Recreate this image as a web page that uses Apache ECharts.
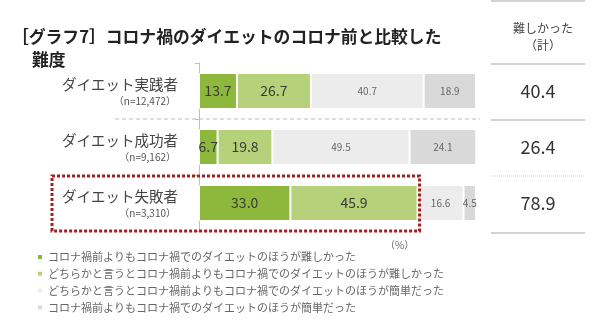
<!DOCTYPE html>
<html>
<head>
<meta charset="utf-8">
<script src="https://cdn.jsdelivr.net/npm/echarts@6/dist/echarts.min.js"></script>
<style>
html,body{margin:0;padding:0;background:#fff;}
#c{width:600px;height:328px;}
</style>
</head>
<body>
<div id="c"></div>
<script>
const categories = ['ダイエット実践者', 'ダイエット成功者', 'ダイエット失敗者'];
const sampleSizes = ['（n=12,472）', '（n=9,162）', '（n=3,310）'];
const seriesNames = [
  'コロナ禍前よりもコロナ禍でのダイエットのほうが難しかった',
  'どちらかと言うとコロナ禍前よりもコロナ禍でのダイエットのほうが難しかった',
  'どちらかと言うとコロナ禍前よりもコロナ禍でのダイエットのほうが簡単だった',
  'コロナ禍前よりもコロナ禍でのダイエットのほうが簡単だった'
];
const muchHarder = [13.7, 6.7, 33.0];
const slightlyHarder = [26.7, 19.8, 45.9];
const slightlyEasier = [40.7, 49.5, 16.6];
const muchEasier = [18.9, 24.1, 4.5];
const totals = ['40.4', '26.4', '78.9'];
const xTicks = [0, 100];

const FONT = '"Noto Sans CJK JP", "Noto Sans", sans-serif';
const colors = ['#8db83c', '#b5d27a', '#ececec', '#d9d9d9'];
const seriesData = [muchHarder, slightlyHarder, slightlyEasier, muchEasier];

const chart = echarts.init(document.getElementById('c'), null, {renderer: 'canvas'});

const series = seriesData.map((d, i) => ({
  name: seriesNames[i],
  type: 'bar',
  stack: 'total',
  barWidth: 36,
  data: d,
  itemStyle: {color: colors[i], borderColor: '#fff', borderWidth: 1},
  label: {
    show: true,
    position: 'inside',
    fontFamily: FONT,
    fontSize: i < 2 ? 14 : 10,
    color: i < 2 ? '#3a3a3a' : '#666',
    formatter: p => p.value.toFixed(1)
  },
  emphasis: {disabled: true}
}));

chart.setOption({
  animation: false,
  backgroundColor: '#fff',
  textStyle: {fontFamily: FONT},
  title: [
    {text: '［グラフ7］コロナ禍のダイエットのコロナ前と比較した', left: 7, top: 23,
     textStyle: {fontFamily: FONT, fontSize: 16.8, fontWeight: 'bold', color: '#222'}},
    {text: '難度', left: 27, top: 46,
     textStyle: {fontFamily: FONT, fontSize: 16.8, fontWeight: 'bold', color: '#222'}},
    {text: '難しかった\n（計）', left: 538, top: 15, textAlign: 'center',
     textStyle: {fontFamily: FONT, fontSize: 12, fontWeight: 'normal', color: '#444', lineHeight: 17, align: 'center'}},
    {text: '（%）', left: 380, top: 235,
     textStyle: {fontFamily: FONT, fontSize: 10, fontWeight: 'normal', color: '#666'}}
  ],
  legend: {
    orient: 'vertical',
    left: 31,
    top: 245,
    icon: 'rect',
    itemWidth: 6,
    itemHeight: 6,
    itemTextGap: 3,
    itemGap: 2.8,
    selectedMode: false,
    textStyle: {fontFamily: FONT, fontSize: 11, color: '#666', lineHeight: 14},
    data: seriesNames
  },
  grid: {left: 199, width: 277, top: 63, bottom: 97, containLabel: false},
  xAxis: {
    type: 'value', min: xTicks[0], max: xTicks[1], show: false
  },
  yAxis: [
    {
      type: 'category',
      inverse: true,
      data: categories,
      axisLine: {show: true, lineStyle: {color: '#bfbfbf', width: 1}},
      axisTick: {show: true, length: 4, lineStyle: {color: '#bfbfbf'}},
      axisLabel: {
        margin: 21,
        align: 'right',
        formatter: (v, idx) => '{m|' + v + '}\n{n|' + sampleSizes[idx] + '}',
        rich: {
          m: {fontFamily: FONT, fontSize: 14.5, color: '#444', lineHeight: 20, align: 'right'},
          n: {fontFamily: FONT, fontSize: 10, color: '#555', lineHeight: 14, align: 'right', padding: [0, 2, 0, 0]}
        }
      }
    },
    {
      type: 'category',
      inverse: true,
      position: 'right',
      data: totals,
      axisLine: {show: false},
      axisTick: {show: false},
      axisLabel: {
        margin: 62, align: 'center',
        fontFamily: FONT, fontSize: 18, color: '#333'
      }
    }
  ],
  series: series
});

// decorations computed from the library's scales
const c0 = chart.convertToPixel({yAxisIndex: 0}, 0);
const c1 = chart.convertToPixel({yAxisIndex: 0}, 1);
const c2 = chart.convertToPixel({yAxisIndex: 0}, 2);
const band = c1 - c0;
const b01 = (c0 + c1) / 2, b12 = (c1 + c2) / 2;
const topB = c0 - band / 2, botB = c2 + band / 2;
const xEnd = chart.convertToPixel({xAxisIndex: 0}, xTicks[1]);
const xFail = chart.convertToPixel({xAxisIndex: 0}, muchHarder[2] + slightlyHarder[2]);

const tblL = 491, tblR = 585;
const solid = {stroke: '#a6a6a6', lineWidth: 1.2};
chart.setOption({
  graphic: [
    {type: 'line', shape: {x1: 115, y1: b01, x2: xEnd + 4, y2: b01}, style: {stroke: '#bdbdbd', lineWidth: 1, lineDash: [4, 3]}, silent: true},
    {type: 'rect', shape: {x: 52, y: b12 + 1, width: xFail + 2 - 52, height: botB - b12 - 1}, style: {fill: 'none', stroke: '#a32020', lineWidth: 3, lineDash: [3, 2]}, silent: true, z: 10},
    {type: 'line', shape: {x1: tblL, y1: 1, x2: tblR, y2: 1}, style: solid, silent: true},
    {type: 'line', shape: {x1: tblL, y1: topB + 1, x2: tblR, y2: topB + 1}, style: solid, silent: true},
    {type: 'line', shape: {x1: tblL, y1: b01 + 1, x2: tblR, y2: b01 + 1}, style: solid, silent: true},
    {type: 'line', shape: {x1: tblL, y1: b12 + 1, x2: tblR, y2: b12 + 1}, style: {stroke: '#cccccc', lineWidth: 1, lineDash: [1, 1]}, silent: true},
    {type: 'line', shape: {x1: tblL, y1: botB + 2, x2: tblR, y2: botB + 2}, style: solid, silent: true}
  ]
});
</script>
</body>
</html>
